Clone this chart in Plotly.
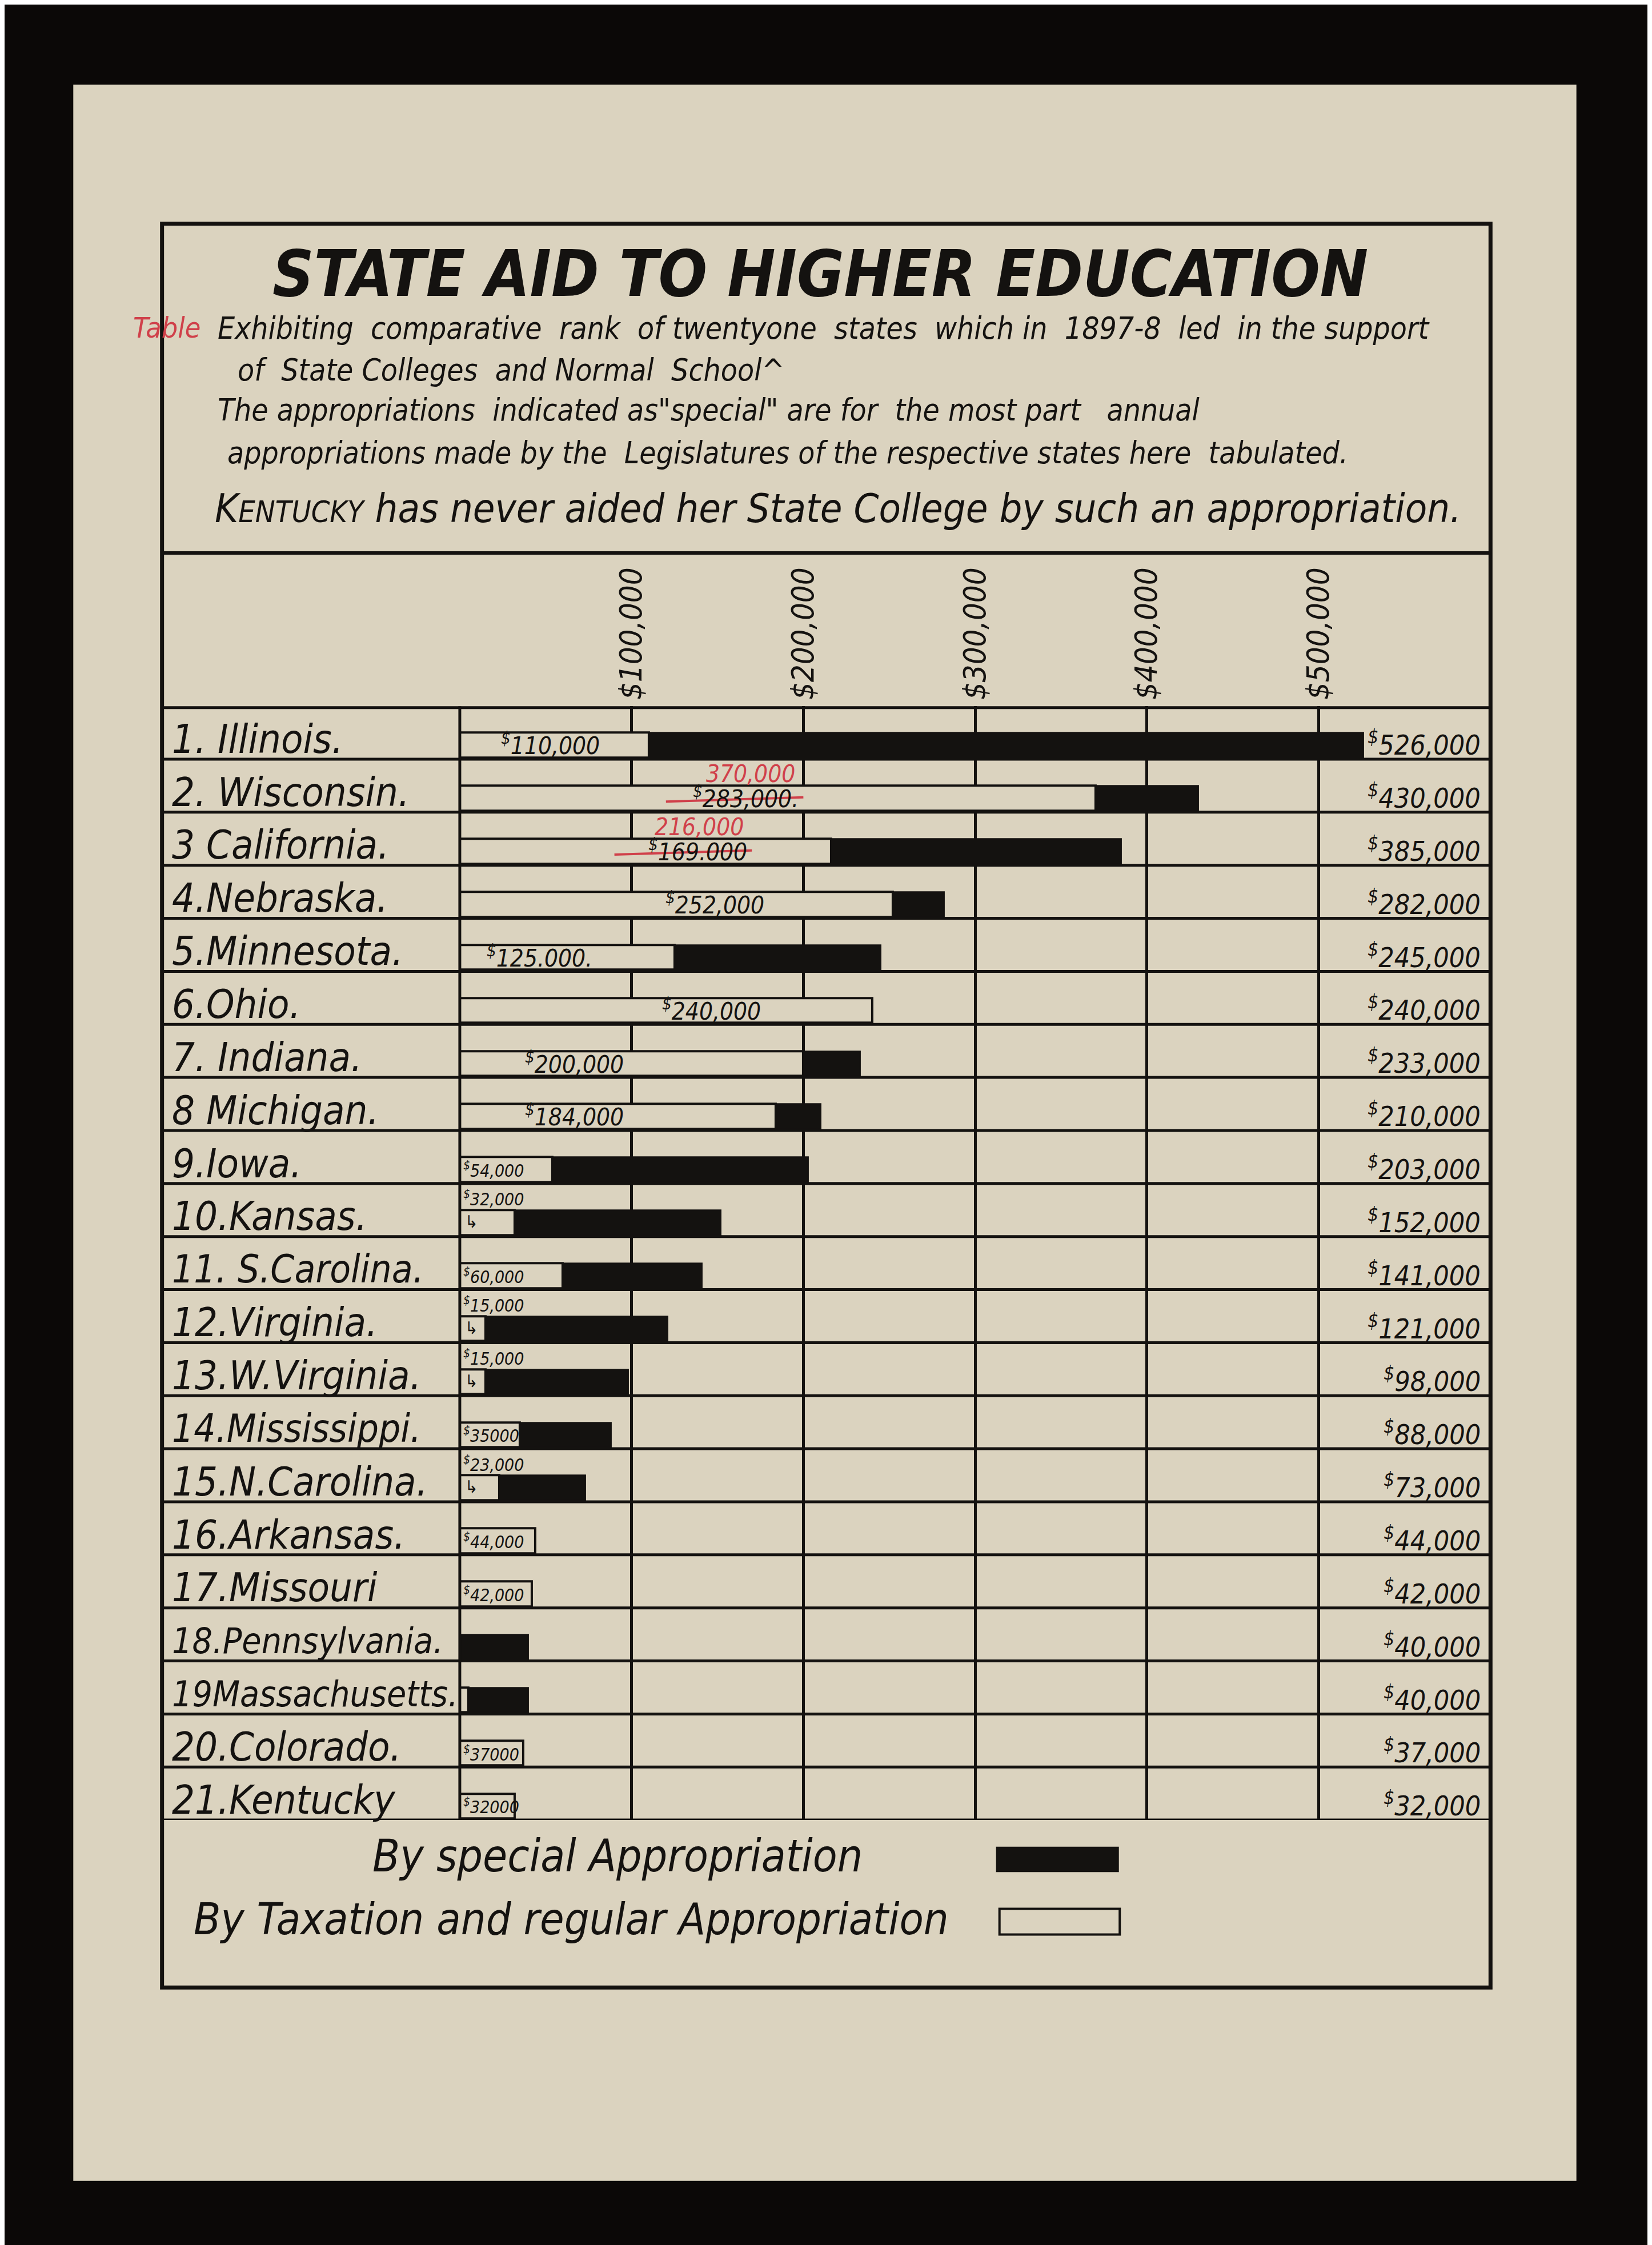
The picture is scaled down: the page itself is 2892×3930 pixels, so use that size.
import plotly.graph_objects as go

# --- data ---
states = ["1. Illinois.", "2. Wisconsin.", "3 California.", "4.Nebraska.", "5.Minnesota.",
          "6.Ohio.", "7. Indiana.", "8 Michigan.", "9.Iowa.", "10.Kansas.", "11. S.Carolina.",
          "12.Virginia.", "13.W.Virginia.", "14.Mississippi.", "15.N.Carolina.", "16.Arkansas.",
          "17.Missouri", "18.Pennsylvania.", "19Massachusetts.", "20.Colorado.", "21.Kentucky"]
taxation = [110000, 370000, 216000, 252000, 125000, 240000, 200000, 184000, 54000, 32000, 60000,
            15000, 15000, 35000, 23000, 44000, 42000, 0, 5000, 37000, 32000]
totals = [526000, 430000, 385000, 282000, 245000, 240000, 233000, 210000, 203000, 152000, 141000,
          121000, 98000, 88000, 73000, 44000, 42000, 40000, 40000, 37000, 32000]
tax_labels = ["110,000", "283,000.", "169.000", "252,000", "125.000.", "240,000", "200,000", "184,000",
              "54,000", "32,000", "60,000", "15,000", "15,000", "35000", "23,000", "44,000", "42,000",
              "", "", "37000", "32000"]
corrections = {1: "370,000", 2: "216,000"}   # red pencil corrections
tick_vals = [0, 100000, 200000, 300000, 400000, 500000]
tick_text = ["", "$100,000", "$200,000", "$300,000", "$400,000", "$500,000"]

special = [t - x for t, x in zip(totals, taxation)]
rows = list(range(len(states)))

# where the hand-written taxation labels end (first 8 rows), in dollars
label_end = [82000, 198000, 168000, 178000, 78000, 176000, 96000, 96000]

PAPER = "#dbd3bf"
INK = "#141210"
RED = "#d0404a"
FONT = "DejaVu Sans Condensed, Liberation Sans Narrow, DejaVu Sans"

W, H = 1154, 1568  # reference layout units
def fx(x):
    return x / W
def fy(y):
    return 1 - y / H

fig = go.Figure()

fig.add_trace(go.Bar(
    y=rows, x=taxation, base=0, orientation="h", width=0.47, offset=0.0,
    marker=dict(color=PAPER, line=dict(color=INK, width=4)),
    hoverinfo="skip", showlegend=False,
))
fig.add_trace(go.Bar(
    y=rows, x=special, base=taxation, orientation="h", width=0.47, offset=0.0,
    marker=dict(color=INK, line=dict(color=INK, width=2)),
    hoverinfo="skip", showlegend=False,
))

shapes = []
annotations = []

def note(text, x, y, size, xanchor="center", color=INK, xref="paper", yref="paper"):
    annotations.append(dict(text=text, xref=xref, yref=yref, x=x, y=y, xanchor=xanchor, yanchor="middle",
                            showarrow=False, font=dict(size=size, family=FONT, color=color)))

# sheet of paper
shapes.append(dict(type="rect", xref="paper", yref="paper", x0=fx(48), x1=fx(1098), y0=fy(1520), y1=fy(56),
                   fillcolor=PAPER, line=dict(width=0), layer="below"))
# outer box
shapes.append(dict(type="rect", xref="paper", yref="paper", x0=fx(110), x1=fx(1038), y0=fy(1385), y1=fy(153),
                   line=dict(color=INK, width=7), layer="above"))
# title separator
shapes.append(dict(type="line", xref="paper", yref="paper", x0=fx(110), x1=fx(1038), y0=fy(383), y1=fy(383),
                   line=dict(color=INK, width=6)))
# row lines
for i in [-1] + rows:
    shapes.append(dict(type="line", xref="paper", yref="y", x0=fx(110), x1=fx(1038), y0=i + 0.5, y1=i + 0.5,
                       line=dict(color=INK, width=10 if i == -1 else 5)))
# state-name column divider
shapes.append(dict(type="line", xref="paper", yref="y", x0=fx(318), x1=fx(318), y0=-0.5, y1=20.5,
                   line=dict(color=INK, width=5)))

# title block
note("<b><i>STATE AID TO HIGHER EDUCATION</i></b>", fx(570), fy(188), 112)
note("<i>Table</i>", fx(89), fy(226), 50, xanchor="left", color=RED)
sub_lines = [
    (148, 226, "Exhibiting  comparative  rank  of twentyone  states  which in  1897-8  led  in the support"),
    (162, 255, "of  State Colleges  and Normal  School^"),
    (148, 283, "The appropriations  indicated as\"special\" are for  the most part   annual"),
    (155, 313, "appropriations made by the  Legislatures of the respective states here  tabulated."),
]
for x, y, t in sub_lines:
    note("<i>" + t + "</i>", fx(x), fy(y), 53, xanchor="left")
note("<i>K<span style='font-size:52px'>ENTUCKY</span> has never aided her State College by such an appropriation.</i>",
     fx(146), fy(352), 70, xanchor="left")

# rows: names, labels, totals
for i in rows:
    name_size = round(min(70, 1000 / len(states[i])))
    note("<i>" + states[i] + "</i>", fx(116), i + 0.12, name_size, xanchor="left", yref="y")
    note("<i><sup>$</sup>" + f"{totals[i]:,}" + "</i>", 595000, i + 0.2, 48, xanchor="right", xref="x", yref="y")
    lab = tax_labels[i]
    if not lab:
        continue
    if i < len(label_end):
        note("<i><sup>$</sup>" + lab + "</i>", label_end[i], i + 0.22, 42, xanchor="right", xref="x", yref="y")
        if i in corrections:
            note("<i>" + corrections[i] + "</i>", label_end[i] - 2000, i - 0.22, 42, xanchor="right",
                 color=RED, xref="x", yref="y")
            shapes.append(dict(type="line", xref="x", yref="y", x0=label_end[i] - 78000, x1=label_end[i] + 2000,
                               y0=i + 0.3, y1=i + 0.22, line=dict(color=RED, width=4)))
    elif special[i] > 0 and taxation[i] <= 32000:
        note("<i><sup>$</sup>" + lab + "</i>", 1500, i - 0.22, 30, xanchor="left", xref="x", yref="y")
        note("↳", 2500, i + 0.22, 30, xanchor="left", xref="x", yref="y")
    else:
        note("<i><sup>$</sup>" + lab + "</i>", 1500, i + 0.24, 30, xanchor="left", xref="x", yref="y")

# key
note("<i>By special Appropriation</i>", fx(428), fy(1293), 78)
note("<i>By Taxation and regular Appropriation</i>", fx(396), fy(1337), 77)
shapes.append(dict(type="rect", xref="paper", yref="paper", x0=fx(693), x1=fx(778), y0=fy(1304), y1=fy(1287),
                   fillcolor=INK, line=dict(color=INK, width=2)))
shapes.append(dict(type="rect", xref="paper", yref="paper", x0=fx(695), x1=fx(779), y0=fy(1348), y1=fy(1330),
                   fillcolor=PAPER, line=dict(color=INK, width=4)))

fig.update_layout(
    width=2892, height=3930,
    margin=dict(l=0, r=0, t=0, b=0),
    paper_bgcolor="#0b0807",
    plot_bgcolor="rgba(0,0,0,0)",
    barmode="overlay",
    bargap=0,
    font=dict(family=FONT, color=INK),
    shapes=shapes,
    annotations=annotations,
    xaxis=dict(
        domain=[fx(318), fx(1038)], range=[0, 600000], side="top",
        tickvals=tick_vals, ticktext=tick_text, tickangle=-90, ticks="", ticklabelstandoff=10,
        tickfont=dict(size=54, family=FONT, color=INK, style="italic"),
        showgrid=True, gridcolor=INK, gridwidth=5, zeroline=False, showline=False,
        fixedrange=True,
    ),
    yaxis=dict(
        domain=[fy(1268), fy(490)], range=[20.5, -0.5],
        showticklabels=False, showgrid=False, zeroline=False, showline=False, fixedrange=True,
    ),
)

fig.write_html("out.html")
